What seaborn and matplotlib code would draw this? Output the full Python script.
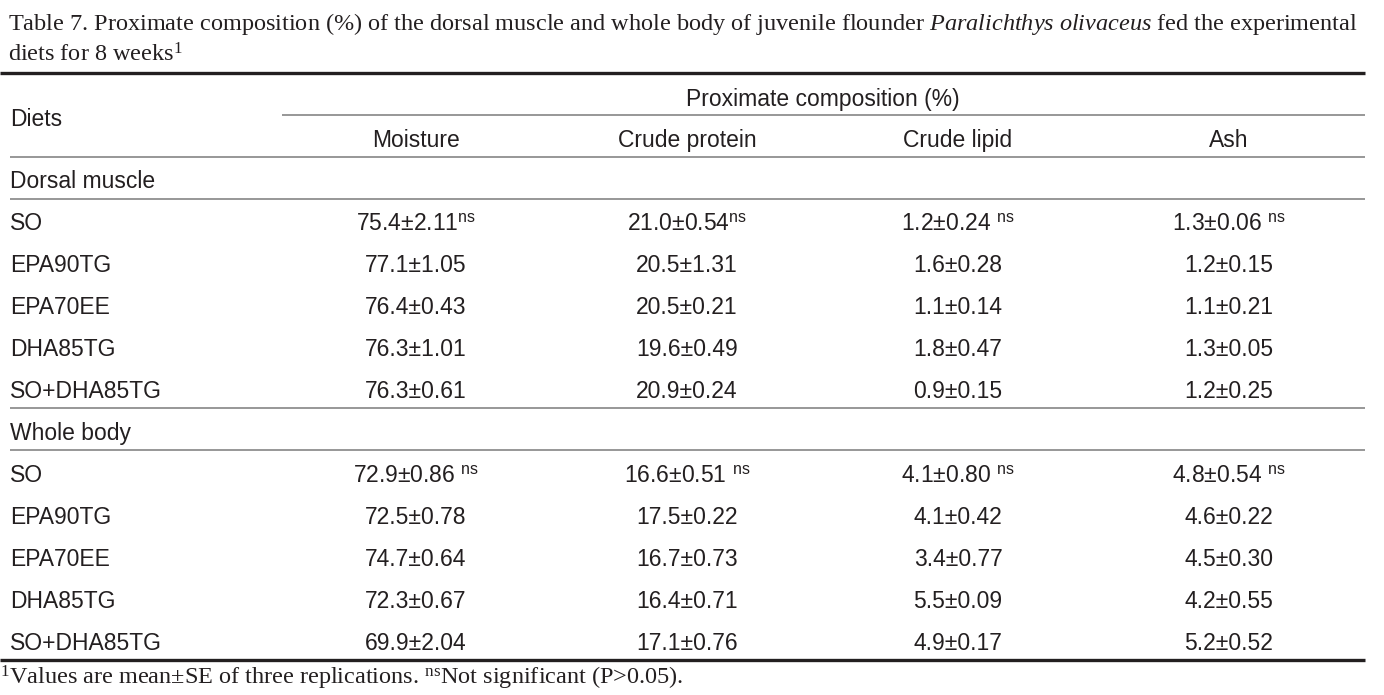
import matplotlib
matplotlib.use("Agg")
import matplotlib.pyplot as plt
import pandas as pd
import seaborn as sns


diets = ["SO", "EPA90TG", "EPA70EE", "DHA85TG", "SO+DHA85TG"]
groups = ["Dorsal muscle", "Whole body"]
measures = ["Moisture", "Crude protein", "Crude lipid", "Ash"]

# dorsal muscle, mean and SE per diet
muscle_moisture = [75.4, 77.1, 76.4, 76.3, 76.3]
muscle_moisture_se = [2.11, 1.05, 0.43, 1.01, 0.61]
muscle_protein = [21.0, 20.5, 20.5, 19.6, 20.9]
muscle_protein_se = [0.54, 1.31, 0.21, 0.49, 0.24]
muscle_lipid = [1.2, 1.6, 1.1, 1.8, 0.9]
muscle_lipid_se = [0.24, 0.28, 0.14, 0.47, 0.15]
muscle_ash = [1.3, 1.2, 1.1, 1.3, 1.2]
muscle_ash_se = [0.06, 0.15, 0.21, 0.05, 0.25]

# whole body
body_moisture = [72.9, 72.5, 74.7, 72.3, 69.9]
body_moisture_se = [0.86, 0.78, 0.64, 0.67, 2.04]
body_protein = [16.6, 17.5, 16.7, 16.4, 17.1]
body_protein_se = [0.51, 0.22, 0.73, 0.71, 0.76]
body_lipid = [4.1, 4.1, 3.4, 5.5, 4.9]
body_lipid_se = [0.80, 0.42, 0.77, 0.09, 0.17]
body_ash = [4.8, 4.6, 4.5, 4.2, 5.2]
body_ash_se = [0.54, 0.22, 0.30, 0.55, 0.52]

TITLE_1 = (r"Table 7. Proximate composition (%) of the dorsal muscle and whole body of "
           r"juvenile flounder $\mathit{Paralichthys\ olivaceus}$ fed the experimental")
TITLE_2 = r"diets for 8 weeks$^{\mathrm{1}}$"
FOOTNOTE = (r"$^{\mathrm{1}}$Values are mean±SE of three replications. "
            r"$^{\mathrm{ns}}$Not significant (P>0.05).")

INK = "#231f20"
RULE = "#7a7a7a"
SANS = "Liberation Sans"
SERIF = "Liberation Serif"


def style() -> None:
    sns.set_theme(style="white")
    plt.rcParams.update({
        "font.family": [SANS, "DejaVu Sans"],
        "mathtext.fontset": "custom",
        "mathtext.rm": SERIF,
        "mathtext.it": SERIF + ":italic",
        "mathtext.sf": SANS,
        "text.color": INK,
    })


def build_frame() -> pd.DataFrame:
    cols = {
        "Dorsal muscle": [(muscle_moisture, muscle_moisture_se), (muscle_protein, muscle_protein_se),
                          (muscle_lipid, muscle_lipid_se), (muscle_ash, muscle_ash_se)],
        "Whole body": [(body_moisture, body_moisture_se), (body_protein, body_protein_se),
                       (body_lipid, body_lipid_se), (body_ash, body_ash_se)],
    }
    rows = []
    for g in groups:
        for i, d in enumerate(diets):
            for j, m in enumerate(measures):
                mean, se = cols[g][j]
                rows.append({"group": g, "diet": d, "measure": m,
                             "mean": mean[i], "se": se[i]})
    return pd.DataFrame(rows)


def cell_text(row, first: bool, gap: bool) -> str:
    s = f"{row['mean']:.1f}±{row['se']:.2f}"
    if first:
        s += (" " if gap else "") + r"$^{\mathsf{ns}}$"
    return s


def main() -> None:
    style()
    df = build_frame()

    fig = plt.figure(figsize=(13.84, 6.95), dpi=100)
    ax = fig.add_axes([0, 0, 1, 1])
    ax.set_xlim(0, 1384)
    ax.set_ylim(695, 0)
    ax.axis("off")

    col_x = [416, 687, 958, 1229]
    x_left, x_right = 10, 1365
    fs = 16.5
    fs_serif = 17.5

    # title
    ax.text(8, 30, TITLE_1, family=SERIF, fontsize=fs_serif, va="baseline")
    ax.text(8, 61, TITLE_2, family=SERIF, fontsize=fs_serif, va="baseline")

    # rules
    ax.hlines([73, 660], 0, x_right, color=INK, lw=2.4)
    ax.hlines(115, 282, x_right, color=RULE, lw=1.1)
    ax.hlines([157, 199, 408, 450], x_left, x_right, color=RULE, lw=1.1)

    # header
    ax.text(x_left, 126, "Diets", fontsize=fs, va="baseline")
    ax.text((col_x[0] + col_x[-1]) / 2, 106, "Proximate composition (%)",
            fontsize=fs, va="baseline", ha="center")
    for x, m in zip(col_x, measures):
        ax.text(x, 147, m, fontsize=fs, va="baseline", ha="center")

    # body
    gaps = {"Dorsal muscle": [False, False, True, True],
            "Whole body": [True, True, True, True]}
    y = 188
    for g in groups:
        ax.text(x_left, y, g, fontsize=fs, va="baseline")
        y += 42
        sub = df[df["group"] == g]
        for i, d in enumerate(diets):
            ax.text(x_left, y, d, fontsize=fs, va="baseline")
            for j, m in enumerate(measures):
                row = sub[(sub["diet"] == d) & (sub["measure"] == m)].iloc[0]
                ax.text(col_x[j], y, cell_text(row, i == 0, gaps[g][j]),
                        fontsize=fs, va="baseline", ha="center")
            y += 42

    ax.text(0, 685, FOOTNOTE, family=SERIF, fontsize=fs_serif, va="baseline")

    fig.savefig("out.png", dpi=100)
    plt.close(fig)


if __name__ == "__main__":
    main()
